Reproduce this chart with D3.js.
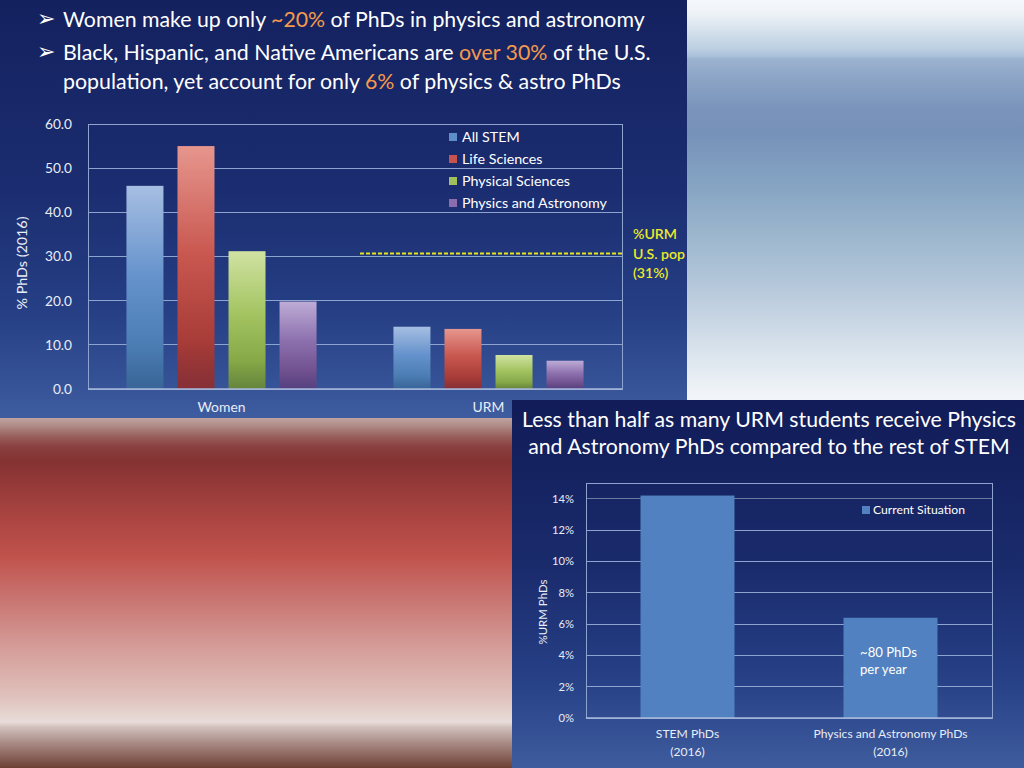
<!DOCTYPE html>
<html><head><meta charset="utf-8">
<script src="https://cdn.jsdelivr.net/npm/d3@7"></script>
<style>
html,body{margin:0;padding:0;background:#fff;overflow:hidden}
svg{display:block}
text{font-family:Lato,"Open Sans","DejaVu Sans",sans-serif}
</style></head>
<body>
<svg id="c" width="1024" height="768"></svg>
<script>
// ---------- DATA ----------
const groups = ["Women", "URM"];
const seriesNames = ["All STEM", "Life Sciences", "Physical Sciences", "Physics and Astronomy"];
const allStem = [46.0, 14.1];
const lifeSciences = [55.0, 13.6];
const physicalSciences = [31.2, 7.7];
const physicsAstronomy = [19.8, 6.4];
const yTicks1 = [0, 10, 20, 30, 40, 50, 60];
const urmPopShare = 30.7;
const urmPopLabel = ["%URM", "U.S. pop", "(31%)"];

const categories2 = ["STEM PhDs", "Physics and Astronomy PhDs"];
const categoryYear2 = ["(2016)", "(2016)"];
const currentSituation = [14.2, 6.4];
const yTicks2 = [0, 2, 4, 6, 8, 10, 12, 14];
const barNote = ["~80 PhDs", "per year"];

const titleLines = [
  [["Women make up only ", 0], ["~20%", 1], [" of PhDs in physics and astronomy", 0]],
  [["Black, Hispanic, and Native Americans are ", 0], ["over 30%", 1], [" of the U.S.", 0]],
  [["population, yet account for only ", 0], ["6%", 1], [" of physics & astro PhDs", 0]]
];
const title2Lines = ["Less than half as many URM students receive Physics",
                     "and Astronomy PhDs compared to the rest of STEM"];

// ---------- SETUP ----------
const svg = d3.select("#c");
const defs = svg.append("defs");
function vGrad(id, stops) {
  const g = defs.append("linearGradient").attr("id", id)
    .attr("x1", 0).attr("x2", 0).attr("y1", 0).attr("y2", 1);
  stops.forEach(s => g.append("stop").attr("offset", s[0]).attr("stop-color", s[1])
    .attr("stop-opacity", s[2] ?? 1));
  return `url(#${id})`;
}
// scale font sizes of a selection so that its reference node reaches target width
function fitGroup(sel, refNode, target) {
  const w = refNode.getComputedTextLength();
  const fs = parseFloat(d3.select(refNode).attr("font-size"));
  sel.attr("font-size", (fs * target / w).toFixed(2));
}

// background panels
const bgRight = vGrad("bgRight", [[0,"#f5f8fb"],[0.03,"#eef3f7"],[0.06,"#dfe8f0"],[0.09,"#cddbe8"],[0.12,"#bccfe2"],[0.14,"#a8bfd9"],[0.145,"#9cb3cf"],[0.2,"#8aa3c5"],[0.27,"#7a93bb"],[0.33,"#7792b9"],[0.45,"#84a3c2"],[0.58,"#9cb6cd"],[0.72,"#b8cadc"],[0.86,"#d8e2ec"],[1,"#f6f8fa"]]);
svg.append("rect").attr("x", 680).attr("y", 0).attr("width", 344).attr("height", 405).attr("fill", bgRight);

const bgRed = vGrad("bgRed", [[0,"#c8aca8"],[0.03,"#b08c88"],[0.06,"#98605c"],[0.09,"#8a4040"],[0.13,"#843232"],[0.3,"#ad4642"],[0.4,"#c0524c"],[0.52,"#c87470"],[0.65,"#d49a96"],[0.8,"#e0c2bc"],[0.87,"#e8dcd8"],[0.885,"#d0c0bc"],[0.93,"#a88a84"],[0.97,"#886058"],[1,"#6c4034"]]);
svg.append("rect").attr("x", 0).attr("y", 415).attr("width", 515).attr("height", 353).attr("fill", bgRed);

const bgTop = vGrad("bgTop", [[0,"#14215f"],[0.45,"#1b2d70"],[0.75,"#263f85"],[1,"#3e5ca0"]]);
svg.append("rect").attr("x", 0).attr("y", 0).attr("width", 687).attr("height", 418).attr("fill", bgTop);

const bgBot = vGrad("bgBot", [[0,"#111c58"],[0.45,"#1a2b6c"],[0.75,"#263f85"],[1,"#3e5c9e"]]);
svg.append("rect").attr("x", 512).attr("y", 400).attr("width", 512).attr("height", 368).attr("fill", bgBot);

// ---------- TOP TITLE ----------
const titleBase = [27, 59.5, 89];
const titleWidths = [582, 588, 558];
titleLines.forEach((parts, i) => {
  if (i < 2) {
    svg.append("text").attr("x", 37).attr("y", titleBase[i] - 1)
      .attr("font-family", "DejaVu Sans").attr("font-size", 22).attr("fill", "#fff")
      .text("\u27A2");
  }
  const t = svg.append("text").attr("x", 63).attr("y", titleBase[i])
    .attr("font-size", 21).attr("fill", "#ffffff");
  parts.forEach(p => t.append("tspan").attr("fill", p[1] ? "#f39a4c" : "#ffffff").text(p[0]));
  fitGroup(t, t.node(), titleWidths[i]);
});

// ---------- CHART 1 ----------
const m1 = {left: 88, right: 622, top: 124, bottom: 389};
const y1 = d3.scaleLinear().domain([0, 60]).range([m1.bottom, m1.top]);
const x0 = d3.scaleBand().domain(groups).range([m1.left, m1.right]).paddingInner(0.288).paddingOuter(0.144);
const x1 = d3.scaleBand().domain(seriesNames).range([0, x0.bandwidth()]).paddingInner(0.275).paddingOuter(0);
const seriesValues = [allStem, lifeSciences, physicalSciences, physicsAstronomy];
const barGrads = [
  vGrad("gBlue", [[0,"#a6bee2"],[0.45,"#6592cc"],[0.8,"#4a7cb2"],[1,"#3a6898",0.85]]),
  vGrad("gRed", [[0,"#e6968e"],[0.45,"#c8574f"],[0.8,"#a83c38"],[1,"#8e2c2c",0.9]]),
  vGrad("gGreen", [[0,"#d0e2a2"],[0.45,"#a4c462"],[0.8,"#86a846"],[1,"#6a8a34",0.9]]),
  vGrad("gPurple", [[0,"#beacd6"],[0.45,"#8c70ae"],[0.8,"#70508e"],[1,"#5a3e7c",0.85]])
];
const legendColors = ["#5f8fc8", "#c8524e", "#9fc05c", "#8c6cac"];
const gridCol = "#8ea4d0";
const labelCol = "#e8edf6";

const g1 = svg.append("g");
g1.append("g").selectAll("line").data(yTicks1).join("line")
  .attr("x1", m1.left).attr("x2", m1.right)
  .attr("y1", d => y1(d)).attr("y2", d => y1(d))
  .attr("stroke", gridCol).attr("stroke-width", 1).attr("shape-rendering", "crispEdges");
g1.append("rect").attr("x", m1.left).attr("y", m1.top)
  .attr("width", m1.right - m1.left).attr("height", m1.bottom - m1.top)
  .attr("fill", "none").attr("stroke", gridCol).attr("shape-rendering", "crispEdges");
seriesNames.forEach((s, si) => {
  g1.append("g").selectAll("rect").data(groups.map((gname, gi) => ({g: gname, v: seriesValues[si][gi]})))
    .join("rect")
    .attr("x", d => x0(d.g) + x1(s)).attr("width", x1.bandwidth())
    .attr("y", d => y1(d.v)).attr("height", d => y1(0) - y1(d.v))
    .attr("fill", barGrads[si]);
});
g1.append("line").attr("x1", m1.left).attr("x2", m1.right).attr("y1", y1(0)).attr("y2", y1(0))
  .attr("stroke", "#a8b8dc").attr("stroke-width", 1.5);

// y axis
const ya1 = g1.append("g").attr("transform", `translate(${m1.left},0)`)
  .call(d3.axisLeft(y1).tickValues(yTicks1).tickFormat(d3.format(".1f")).tickSize(0).tickPadding(16));
ya1.select(".domain").remove();
const ya1t = ya1.selectAll("text").attr("font-size", 13).attr("fill", labelCol).attr("font-family", "Lato");
fitGroup(ya1t, ya1t.nodes()[6], 27);
// x axis labels
const xa1 = g1.append("g").attr("transform", `translate(0,${m1.bottom})`)
  .call(d3.axisBottom(x0).tickSize(0).tickPadding(13));
xa1.select(".domain").remove();
const xa1t = xa1.selectAll("text").attr("font-size", 13).attr("fill", labelCol).attr("font-family", "Lato");
fitGroup(xa1t, xa1t.nodes()[0], 48);
// y title
const yt1 = g1.append("text").attr("transform", `translate(27,${263}) rotate(-90)`)
  .attr("text-anchor", "middle").attr("font-size", 13).attr("fill", labelCol)
  .text("% PhDs (2016)");
fitGroup(yt1, yt1.node(), 93);

// legend
const leg1 = g1.append("g").selectAll("g").data(seriesNames).join("g")
  .attr("transform", (d, i) => `translate(449,${137 + i * 22})`);
leg1.append("rect").attr("x", 0).attr("y", -4).attr("width", 8).attr("height", 8)
  .attr("fill", (d, i) => legendColors[i]);
const leg1t = leg1.append("text").attr("x", 13).attr("y", 0).attr("dy", "0.35em")
  .attr("font-size", 13).attr("fill", "#ffffff").text(d => d);
fitGroup(leg1t, leg1t.nodes()[3], 145);

// URM population line
g1.append("line").attr("x1", 360).attr("x2", m1.right)
  .attr("y1", y1(urmPopShare)).attr("y2", y1(urmPopShare))
  .attr("stroke", "#e6e61e").attr("stroke-width", 2).attr("stroke-dasharray", "4,2");
const urmT = g1.append("g").selectAll("text").data(urmPopLabel).join("text")
  .attr("x", 633).attr("y", (d, i) => y1(urmPopShare) - 19 + i * 19.5).attr("dy", "0.35em")
  .attr("font-size", 13).attr("fill", "#eaea2a").attr("font-weight", 600).text(d => d);
fitGroup(urmT, urmT.nodes()[1], 52);

// ---------- CHART 2 ----------
title2Lines.forEach((line, i) => {
  const t = svg.append("text").attr("x", 769).attr("y", i ? 454 : 427)
    .attr("text-anchor", "middle").attr("font-size", 20).attr("fill", "#ffffff").text(line);
  fitGroup(t, t.node(), i ? 482 : 494);
});

const m2 = {left: 586, right: 992, top: 483, bottom: 718};
const y2 = d3.scaleLinear().domain([0, 15]).range([m2.bottom, m2.top]);
const xb = d3.scaleBand().domain(categories2).range([m2.left, m2.right]).paddingInner(0.537).paddingOuter(0.2685);
const g2 = svg.append("g");
g2.append("g").selectAll("line").data(yTicks2).join("line")
  .attr("x1", m2.left).attr("x2", m2.right)
  .attr("y1", d => y2(d)).attr("y2", d => y2(d))
  .attr("stroke", (d) => d === 14 ? "#6a7a9c" : gridCol).attr("stroke-width", d => d === 14 ? 1.5 : 1)
  .attr("shape-rendering", "crispEdges");
g2.append("rect").attr("x", m2.left).attr("y", m2.top)
  .attr("width", m2.right - m2.left).attr("height", m2.bottom - m2.top)
  .attr("fill", "none").attr("stroke", gridCol).attr("shape-rendering", "crispEdges");
g2.append("g").selectAll("rect").data(categories2.map((c, i) => ({c, v: currentSituation[i]})))
  .join("rect")
  .attr("x", d => xb(d.c)).attr("width", xb.bandwidth())
  .attr("y", d => y2(d.v)).attr("height", d => y2(0) - y2(d.v))
  .attr("fill", "#5181c0");
g2.append("line").attr("x1", m2.left).attr("x2", m2.right).attr("y1", y2(0)).attr("y2", y2(0))
  .attr("stroke", "#a8b8dc").attr("stroke-width", 1.5);

const ya2 = g2.append("g").attr("transform", `translate(${m2.left},0)`)
  .call(d3.axisLeft(y2).tickValues(yTicks2).tickFormat(d => d + "%").tickSize(0).tickPadding(12));
ya2.select(".domain").remove();
const ya2t = ya2.selectAll("text").attr("font-size", 12).attr("fill", labelCol).attr("font-family", "Lato");
fitGroup(ya2t, ya2t.nodes()[7], 22);

const xa2 = g2.append("g").attr("transform", `translate(0,${m2.bottom})`)
  .call(d3.axisBottom(xb).tickSize(0).tickPadding(11));
xa2.select(".domain").remove();
const xa2t = xa2.selectAll("text").attr("font-size", 12).attr("fill", labelCol).attr("font-family", "Lato");
fitGroup(xa2t, xa2t.nodes()[1], 154);
const yr2 = g2.append("g").selectAll("text").data(categories2).join("text")
  .attr("x", d => xb(d) + xb.bandwidth() / 2).attr("y", m2.bottom + 34).attr("dy", "0.35em")
  .attr("text-anchor", "middle").attr("font-size", xa2t.attr("font-size")).attr("fill", labelCol)
  .text((d, i) => categoryYear2[i]);

const yt2 = g2.append("text").attr("transform", `translate(547,612) rotate(-90)`)
  .attr("text-anchor", "middle").attr("font-size", 12).attr("fill", labelCol).text("%URM PhDs");
fitGroup(yt2, yt2.node(), 65);

// legend 2
g2.append("rect").attr("x", 862).attr("y", 506).attr("width", 8).attr("height", 8).attr("fill", "#5181c0");
const lg2 = g2.append("text").attr("x", 873).attr("y", 510).attr("dy", "0.35em")
  .attr("font-size", 12).attr("fill", "#ffffff").text("Current Situation");
fitGroup(lg2, lg2.node(), 92);

// note inside bar
const note = g2.append("g").selectAll("text").data(barNote).join("text")
  .attr("x", 860)
  .attr("y", (d, i) => 652 + i * 17).attr("dy", "0.35em")
  .attr("font-size", 13).attr("fill", "#ffffff").text(d => d);
fitGroup(note, note.nodes()[0], 57);
</script>
</body></html>
